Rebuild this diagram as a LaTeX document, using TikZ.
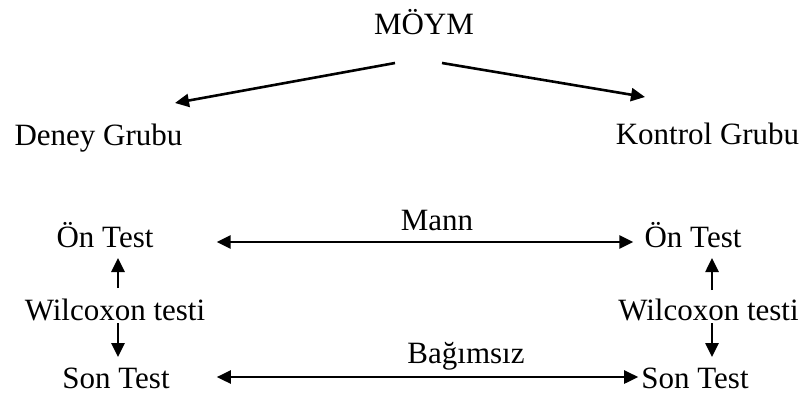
\documentclass[tikz,border=0pt]{standalone}
\usepackage{fontspec}
\setmainfont{Liberation Serif}
\usetikzlibrary{arrows.meta}
\begin{document}
\begin{tikzpicture}[x=1pt,y=-1pt,
  lbl/.style={inner sep=0pt,anchor=base,font=\fontsize{31}{37}\selectfont},
  arr/.style={line width=2.6pt,-{Triangle[length=14pt,width=13pt]}},
  dbl/.style={line width=2.6pt,{Triangle[length=14pt,width=13pt]}-{Triangle[length=14pt,width=13pt]}}]
\useasboundingbox[fill=white] (0,0) rectangle (805,394);
\node[lbl] (moym) at (424,34) {MÖYM};
\node[lbl] (dg) at (98.5,145) {Deney Grubu};
\node[lbl] (kg) at (707.5,144) {Kontrol Grubu};
\node[lbl] (ot1) at (105,247) {Ön Test};
\node[lbl] (ot2) at (693,247) {Ön Test};
\node[lbl] (w1) at (115,320) {Wilcoxon testi};
\node[lbl] (w2) at (708.5,320) {Wilcoxon testi};
\node[lbl] (st1) at (116,388) {Son Test};
\node[lbl] (st2) at (695,388) {Son Test};
\node[lbl] (mann) at (437,230) {Mann};
\node[lbl] (bag) at (466,363) {Bağımsız};
\draw[arr] ([xshift=-29pt,yshift=-29pt]moym.base) -- ([xshift=76.5pt,yshift=42pt]dg.base);
\draw[arr] ([xshift=18pt,yshift=-29pt]moym.base) -- ([xshift=-62.5pt,yshift=47pt]kg.base);
\draw[dbl] ([xshift=63pt,yshift=5pt]ot1.base east) -- ([xshift=-11pt,yshift=5pt]ot2.base west);
\draw[dbl] ([xshift=47pt,yshift=11pt]st1.base east) -- ([xshift=-3pt,yshift=11pt]st2.base west);
\draw[arr] ([xshift=3pt,yshift=32pt]w1.base) -- ([xshift=13pt,yshift=-11pt]ot1.base);
\draw[arr] ([xshift=3pt,yshift=-3pt]w1.base) -- ([xshift=2pt,yshift=31pt]st1.base);
\draw[arr] ([xshift=3.5pt,yshift=30pt]w2.base) -- ([xshift=19pt,yshift=-11pt]ot2.base);
\draw[arr] ([xshift=3.5pt,yshift=-3pt]w2.base) -- ([xshift=17pt,yshift=31pt]st2.base);
\end{tikzpicture}
\end{document}
